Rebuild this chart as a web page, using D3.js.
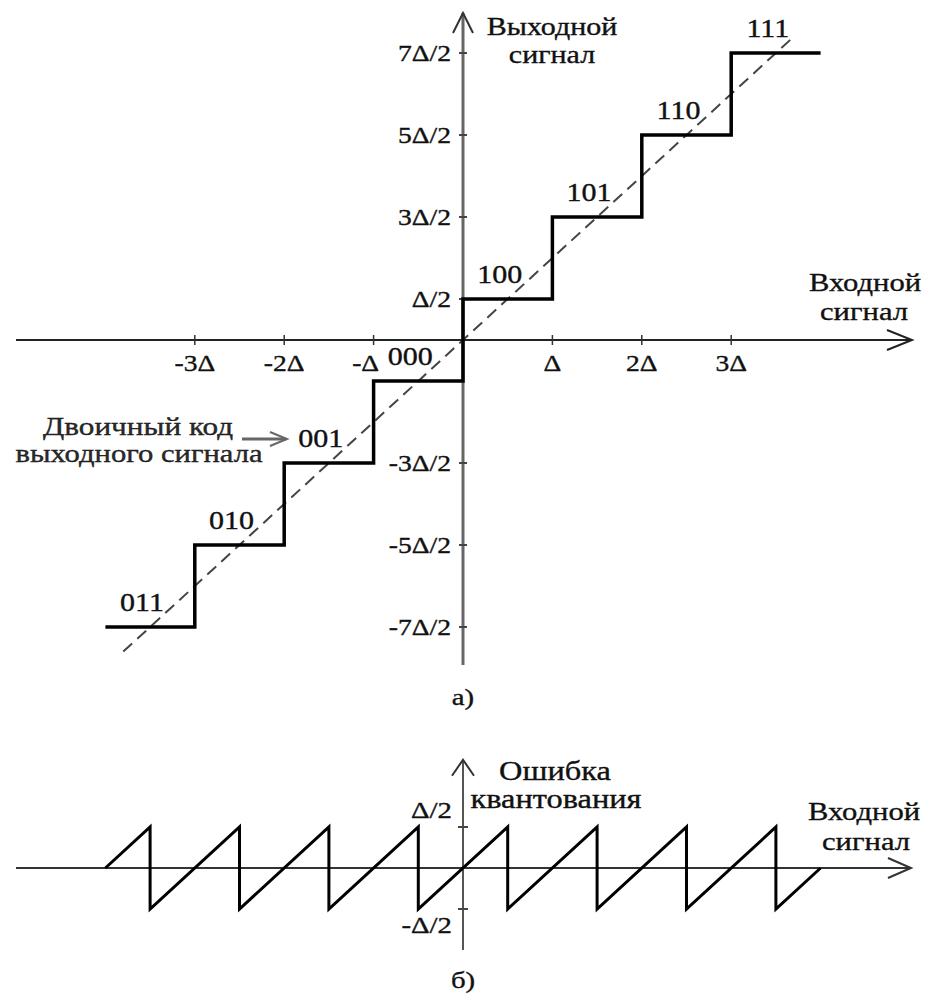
<!DOCTYPE html>
<html>
<head>
<meta charset="utf-8">
<script src="https://cdn.jsdelivr.net/npm/d3@7"></script>
<style>
  html, body { margin: 0; padding: 0; background: #fff; }
  svg text {
    font-family: 'Liberation Serif', 'Times New Roman', serif;
    fill: #111;
    stroke: #111;
    stroke-width: 0.35px;
  }
</style>
</head>
<body>
<div id="chart"></div>
<script>
// quantizer transfer characteristic, all values in units of Δ
const stepStarts = [-4, -3, -2, -1, 0, 1, 2, 3, 4];
const stepLevels = [-3.5, -2.5, -1.5, -0.5, 0.5, 1.5, 2.5, 3.5, 3.5];
const codes = ['011', '010', '001', '000', '100', '101', '110', '111'];
const idealX = [-3.8, 3.7];

const xTicks = [-3, -2, -1, 1, 2, 3];
const xTickLabels = ['-3Δ', '-2Δ', '-Δ', 'Δ', '2Δ', '3Δ'];
const yTicks = [3.5, 2.5, 1.5, 0.5, -1.5, -2.5, -3.5];
const yTickLabels = ['7Δ/2', '5Δ/2', '3Δ/2', 'Δ/2', '-3Δ/2', '-5Δ/2', '-7Δ/2'];

// quantization error (sawtooth)
const errX = [-4, -3.5, -3.5, -2.5, -2.5, -1.5, -1.5, -0.5, -0.5, 0.5, 0.5, 1.5, 1.5, 2.5, 2.5, 3.5, 3.5, 4];
const errY = [0, 0.5, -0.5, 0.5, -0.5, 0.5, -0.5, 0.5, -0.5, 0.5, -0.5, 0.5, -0.5, 0.5, -0.5, 0.5, -0.5, 0];
const errTicks = [0.5, -0.5];
const errTickLabels = ['Δ/2', '-Δ/2'];

const width = 928;
const height = 994;
const stretch = 1.2; // the source lettering is wide

const svg = d3.select('#chart')
  .append('svg')
  .attr('width', width)
  .attr('height', height);

const x = d3.scaleLinear().domain([-5, 5]).range([16, 910]);
const y = d3.scaleLinear().domain([-4, 4]).range([668, 12]);
const y2 = d3.scaleLinear().domain([-0.5, 0.5]).range([909, 827]);

function label(g, px, py, s, anchor, size) {
  return g.append('text')
    .attr('transform', `translate(${px},${py}) scale(${stretch},1)`)
    .attr('text-anchor', anchor || 'middle')
    .attr('font-size', size || 24)
    .text(s);
}

// open arrow head pointing right
function rightHead(g, tipX, tipY, len, half, color, w) {
  g.append('path')
    .attr('d', `M${tipX - len},${tipY - half}L${tipX},${tipY}L${tipX - len},${tipY + half}`)
    .attr('fill', 'none').attr('stroke', color).attr('stroke-width', w);
}

// open arrow head pointing up
function upHead(g, tipX, tipY, len, half, color, w) {
  g.append('path')
    .attr('d', `M${tipX - half},${tipY + len}L${tipX},${tipY}L${tipX + half},${tipY + len}`)
    .attr('fill', 'none').attr('stroke', color).attr('stroke-width', w);
}

// ---------- а) ----------
const gTop = svg.append('g');
const x0 = x(0);
const y0 = y(0);

gTop.append('line')
  .attr('x1', x(-5)).attr('x2', x(5) + 2)
  .attr('y1', y0).attr('y2', y0)
  .attr('stroke', '#222').attr('stroke-width', 2);
rightHead(gTop, x(5) + 2, y0, 25, 10, '#222', 2);

gTop.append('line')
  .attr('x1', x0).attr('x2', x0)
  .attr('y1', y(-4) - 3).attr('y2', y(4) + 1)
  .attr('stroke', '#666').attr('stroke-width', 3);
upHead(gTop, x0, y(4) + 1, 20, 10, '#333', 2);

gTop.selectAll('.xtick')
  .data(xTicks)
  .enter()
  .append('line')
  .attr('x1', (d) => x(d)).attr('x2', (d) => x(d))
  .attr('y1', y0 - 5).attr('y2', y0 + 5)
  .attr('stroke', '#333').attr('stroke-width', 1.5);

gTop.selectAll('.ytick')
  .data(yTicks)
  .enter()
  .append('line')
  .attr('x1', x0 - 4).attr('x2', x0 + 4)
  .attr('y1', (d) => y(d)).attr('y2', (d) => y(d))
  .attr('stroke', '#444').attr('stroke-width', 2);

xTicks.forEach((t, i) => {
  label(gTop, x(t) + (t === -1 ? -8 : 0), y0 + 31, xTickLabels[i], 'middle', 23);
});
yTicks.forEach((t, i) => {
  label(gTop, x0 - 12, y(t) + 8, yTickLabels[i], 'end', 23);
});

// ideal characteristic
gTop.append('path')
  .datum(idealX)
  .attr('d', d3.line().x((d) => x(d)).y((d) => y(d)))
  .attr('fill', 'none')
  .attr('stroke', '#444')
  .attr('stroke-width', 2)
  .attr('stroke-dasharray', '12,7');

// quantizer staircase
gTop.append('path')
  .datum(stepStarts.map((s, i) => [s, stepLevels[i]]))
  .attr('d', d3.line().x((d) => x(d[0])).y((d) => y(d[1])).curve(d3.curveStepAfter))
  .attr('fill', 'none')
  .attr('stroke', '#000')
  .attr('stroke-width', 3.5)
  .attr('stroke-linejoin', 'miter');

codes.forEach((c, i) => {
  label(gTop, x(stepStarts[i] + 0.41), y(stepLevels[i]) - 16, c, 'middle', 25);
});

label(gTop, 552, 35, 'Выходной', 'middle', 25);
label(gTop, 552, 63, 'сигнал', 'middle', 25);
label(gTop, 865, 291, 'Входной', 'middle', 25.5);
label(gTop, 864, 320, 'сигнал', 'middle', 25.5);

label(gTop, 138, 435, 'Двоичный код', 'middle', 26).style('fill', '#2a2a2a');
label(gTop, 139, 462, 'выходного сигнала', 'middle', 25.5).style('fill', '#2a2a2a');
gTop.append('line')
  .attr('x1', 242).attr('x2', 286)
  .attr('y1', 439).attr('y2', 439)
  .attr('stroke', '#666').attr('stroke-width', 3);
rightHead(gTop, 287, 439, 17, 7, '#666', 2);

label(gTop, x0, 705, 'а)', 'middle', 24);

// ---------- б) ----------
const gBot = svg.append('g');
const e0 = y2(0);

gBot.append('line')
  .attr('x1', x(-5)).attr('x2', x(5) + 1)
  .attr('y1', e0).attr('y2', e0)
  .attr('stroke', '#333').attr('stroke-width', 2);
rightHead(gBot, x(5) + 1, e0, 23, 10, '#333', 2);

gBot.append('line')
  .attr('x1', x0).attr('x2', x0)
  .attr('y1', y2(-1)).attr('y2', y2(1.32))
  .attr('stroke', '#555').attr('stroke-width', 2);
upHead(gBot, x0, y2(1.32), 16, 11, '#333', 2);

gBot.selectAll('.etick')
  .data(errTicks)
  .enter()
  .append('line')
  .attr('x1', x0 - 5).attr('x2', x0 + 5)
  .attr('y1', (d) => y2(d)).attr('y2', (d) => y2(d))
  .attr('stroke', '#444').attr('stroke-width', 2);

label(gBot, x0 - 11, y2(0.5) - 9, errTickLabels[0], 'end', 24);
label(gBot, x0 - 11, y2(-0.5) + 24, errTickLabels[1], 'end', 24);

gBot.append('path')
  .datum(errX.map((v, i) => [v, errY[i]]))
  .attr('d', d3.line().x((d) => x(d[0])).y((d) => y2(d[1])))
  .attr('fill', 'none')
  .attr('stroke', '#000')
  .attr('stroke-width', 3)
  .attr('stroke-linejoin', 'miter');

label(gBot, 555, 780, 'Ошибка', 'middle', 27);
label(gBot, 556, 808, 'квантования', 'middle', 27);
label(gBot, 864, 820, 'Входной', 'middle', 25.5);
label(gBot, 866, 850, 'сигнал', 'middle', 25.5);

label(gBot, x0, 988, 'б)', 'middle', 24);
</script>
</body>
</html>
